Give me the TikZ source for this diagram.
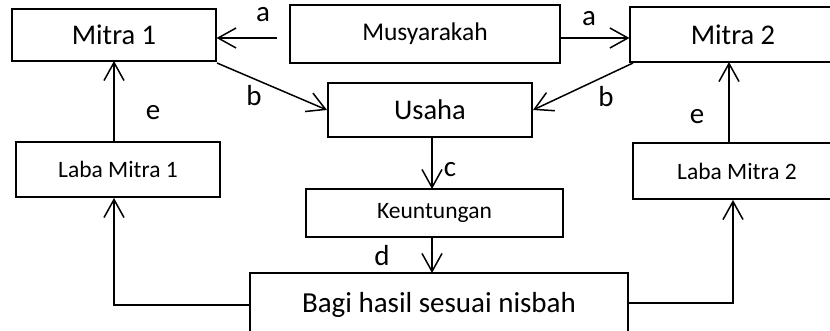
\documentclass[tikz,border=0pt]{standalone}
\usepackage{fontspec}
\setmainfont{Carlito}
\usetikzlibrary{arrows.meta,calc}
\begin{document}
\begin{tikzpicture}[x=1pt,y=-1pt,
  box/.style={draw, line width=1.1pt, inner sep=0pt, anchor=center},
  bigtxt/.style={font=\fontsize{28.5}{32}\selectfont},
  smalltxt/.style={font=\fontsize{23.5}{28}\selectfont},
  lbl/.style={inner sep=0pt, font=\fontsize{29}{34}\selectfont},
  arr/.style={line width=1.5pt, -{Straight Barb[length=18pt,width=20pt,line width=1.5pt]}},
  ln/.style={line width=1.5pt}]
\useasboundingbox (0,0) rectangle (830,331);
\clip (0,0) rectangle (830,331);
\node[box,bigtxt,minimum width=204pt,minimum height=52pt] (m1) at (114,35) {Mitra 1};
\node[box,font=\fontsize{25.5}{30}\selectfont,minimum width=270pt,minimum height=58pt] (mus) at (425,34) {Musyarakah};
\node[box,bigtxt,minimum width=206pt,minimum height=55pt] (m2) at (733,34.5) {Mitra 2};
\node[box,bigtxt,minimum width=204pt,minimum height=54pt] (us) at (430,110) {Usaha};
\node[box,smalltxt,minimum width=204pt,minimum height=55pt] (l1) at (118,169.5) {Laba Mitra 1};
\node[box,smalltxt,minimum width=208pt,minimum height=56pt] (l2) at (737,171) {Laba Mitra 2};
\node[box,smalltxt,minimum width=257pt,minimum height=48pt] (ke) at (434.5,213) {Keuntungan};
\node[box,font=\fontsize{29}{34}\selectfont,minimum width=378pt,minimum height=64pt] (bg) at (439,305) {Bagi hasil sesuai nisbah};
% labels
\node[lbl] (la1) at (263,15) {a};
\node[lbl] (la2) at (589,19) {a};
\node[lbl] (lb1) at (254,96) {b};
\node[lbl] (lb2) at (606,97) {b};
\node[lbl] (lc) at (450,170) {c};
\node[lbl] (ld) at (382,256) {d};
\node[lbl] (le1) at (153,113) {e};
\node[lbl] (le2) at (697,117) {e};
% coordinates
\coordinate (a1s) at (277,38);
\coordinate (a1e) at (m1.east |- a1s);
\coordinate (a2s) at (mus.east |- 0,38);
\coordinate (a2e) at (m2.west |- a2s);
\coordinate (b1s) at (217,63);
\coordinate (b1e) at (327,110);
\coordinate (b2s) at (633,63);
\coordinate (b2e) at (533,110);
\coordinate (e1s) at (114,142);
\coordinate (e1e) at (114,61);
\coordinate (e2s) at (729,143);
\coordinate (e2e) at (729,62);
\coordinate (cs) at (432,137);
\coordinate (ce) at (432,189);
\coordinate (ds) at (432,237);
\coordinate (de) at (432,273);
\coordinate (f1c) at (114,305);
\coordinate (f1e) at (114,198);
\coordinate (f2c) at (733,303);
\coordinate (f2e) at (733,200);
% connectors
\draw[arr] (a1s) -- (a1e);
\draw[arr] (a2s) -- (a2e);
\draw[arr] (b1s) -- (b1e);
\draw[arr] (b2s) -- (b2e);
\draw[arr] (e1s) -- (e1e);
\draw[arr] (e2s) -- (e2e);
\draw[arr] (cs) -- (ce);
\draw[arr] (ds) -- (de);
\draw[arr] (bg.west |- f1c) -- (f1c) -- (f1e);
\draw[arr] (bg.east |- f2c) -- (f2c) -- (f2e);
\end{tikzpicture}
\end{document}
